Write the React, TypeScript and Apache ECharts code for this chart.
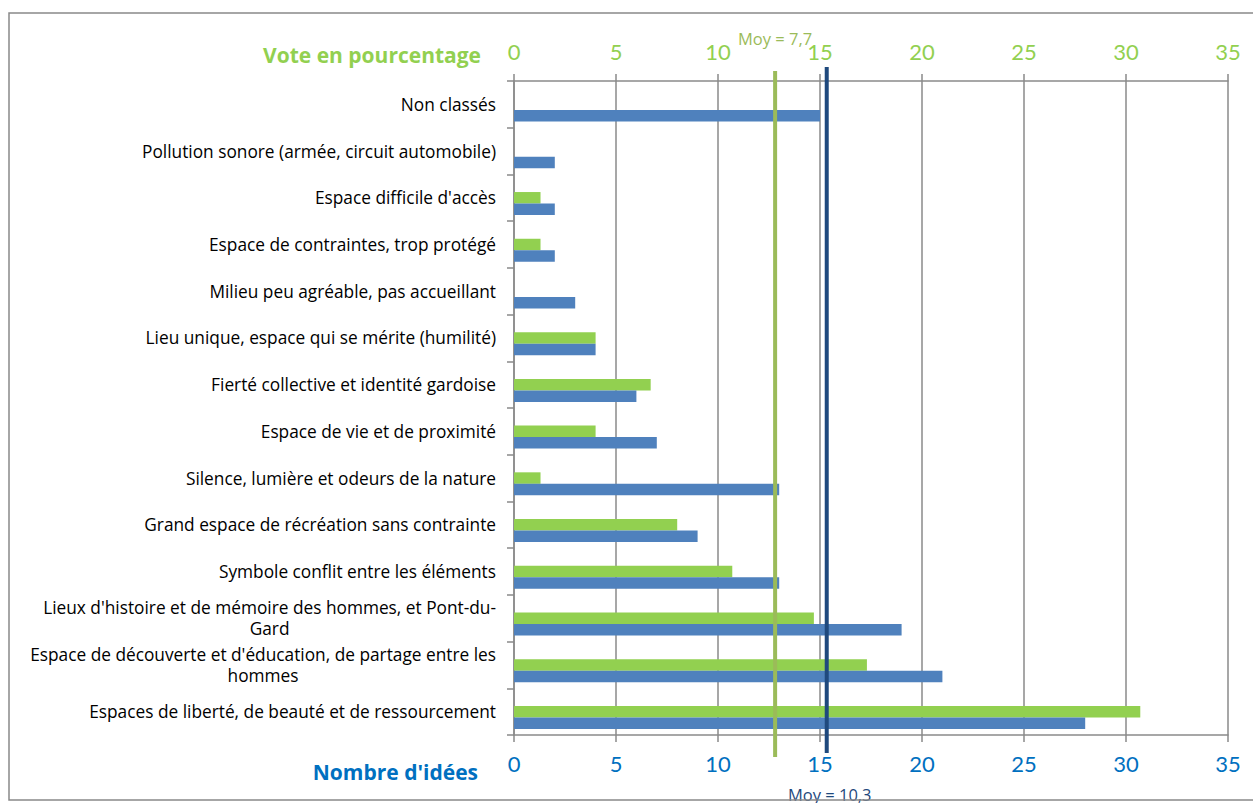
import React, { useEffect, useRef } from "react";
import * as echarts from "echarts";

const categories: string[] = [
  "Non classés",
  "Pollution sonore (armée, circuit automobile)",
  "Espace difficile d'accès",
  "Espace de contraintes, trop protégé",
  "Milieu peu agréable, pas accueillant",
  "Lieu unique, espace qui se mérite (humilité)",
  "Fierté collective et identité gardoise",
  "Espace de vie et de proximité",
  "Silence, lumière et odeurs de la nature",
  "Grand espace de récréation sans contrainte",
  "Symbole conflit entre les éléments",
  "Lieux d'histoire et de mémoire des hommes, et Pont-du-\nGard",
  "Espace de découverte et d'éducation, de partage entre les\nhommes",
  "Espaces de liberté, de beauté et de ressourcement",
];

// Top axis (green): vote in percent
const votePercent: number[] = [0, 0, 1.3, 1.3, 0, 4.0, 6.7, 4.0, 1.3, 8.0, 10.7, 14.7, 17.3, 30.7];
// Bottom axis (blue): number of ideas
const ideaCount: number[] = [15, 2, 2, 2, 3, 4, 6, 7, 13, 9, 13, 19, 21, 28];

const axisMin = 0;
const axisMax = 35;
const axisInterval = 5;

const voteAxisName = "Vote en pourcentage";
const ideaAxisName = "Nombre d'idées";

// Mean lines as drawn on the chart (position on their axis + label text)
const voteMeanPosition = 12.8;
const voteMeanLabel = "Moy = 7,7";
const ideaMeanPosition = 15.33;
const ideaMeanLabel = "Moy = 10,3";

const FONT = "'Open Sans', Lato, sans-serif";
const TICK_FONT = "Lato, 'Open Sans', sans-serif";
const GREEN = "#92D050";
const BLUE_BAR = "#4F81BD";
const BLUE_TEXT = "#0070C0";
const MEAN_GREEN = "#9BBB59";
const MEAN_BLUE = "#1F497D";
const GRID_GREY = "#8a8a8a";

export default function App() {
  const ref = useRef<HTMLDivElement>(null);

  useEffect(() => {
    if (!ref.current) return;
    const chart = echarts.init(ref.current, undefined, { renderer: "svg" });

    const valueAxisCommon = {
      type: "value" as const,
      min: axisMin,
      max: axisMax,
      interval: axisInterval,
      axisLine: { show: true, lineStyle: { color: GRID_GREY, width: 1.5 } },
      axisTick: { show: true, length: 7, lineStyle: { color: GRID_GREY, width: 1.5 } },
    };

    chart.setOption({
      animation: false,
      grid: { left: 514, right: 25, top: 81, bottom: 68, containLabel: false },
      xAxis: [
        {
          ...valueAxisCommon,
          position: "top",
          axisLabel: { color: GREEN, fontSize: 22, fontFamily: TICK_FONT, margin: 19 },
          splitLine: { show: true, lineStyle: { color: GRID_GREY, width: 1.5 } },
        },
        {
          ...valueAxisCommon,
          position: "bottom",
          axisLabel: { color: BLUE_TEXT, fontSize: 22, fontFamily: TICK_FONT, margin: 17 },
          splitLine: { show: false },
        },
      ],
      yAxis: {
        type: "category",
        inverse: true,
        data: categories,
        axisLine: { show: true, lineStyle: { color: GRID_GREY, width: 1.5 } },
        axisTick: { show: true, length: 7, lineStyle: { color: GRID_GREY, width: 1.5 } },
        axisLabel: {
          margin: 18,
          color: "#000",
          fontSize: 17.3,
          fontFamily: FONT,
          lineHeight: 21,
          formatter: (v: string) =>
            v
              .split("\n")
              .map((l) => `{c|${l}}`)
              .join("\n"),
          rich: {
            c: { align: "center", color: "#000", fontSize: 17.3, fontFamily: FONT, lineHeight: 21 },
          },
        },
      },
      series: [
        {
          name: "spacer",
          type: "bar",
          xAxisIndex: 0,
          data: [],
          barWidth: 11.5,
          barGap: "0%",
          silent: true,
          itemStyle: { color: "rgba(0,0,0,0)" },
        },
        {
          name: voteAxisName,
          type: "bar",
          xAxisIndex: 0,
          data: votePercent,
          barWidth: 11.5,
          barGap: "0%",
          itemStyle: { color: GREEN },
        },
        {
          name: ideaAxisName,
          type: "bar",
          xAxisIndex: 1,
          data: ideaCount,
          barWidth: 11.5,
          barGap: "0%",
          itemStyle: { color: BLUE_BAR },
        },
      ],
    });

    const gx = chart.convertToPixel({ xAxisIndex: 0 }, voteMeanPosition) as number;
    const bx = chart.convertToPixel({ xAxisIndex: 1 }, ideaMeanPosition) as number;

    chart.setOption({
      graphic: [
        {
          type: "text",
          z: 100,
          x: 481,
          y: 55,
          style: {
            text: voteAxisName,
            align: "right",
            verticalAlign: "middle",
            fill: GREEN,
            font: `bold 21px ${FONT}`,
          },
        },
        {
          type: "text",
          z: 100,
          x: 478,
          y: 772,
          style: {
            text: ideaAxisName,
            align: "right",
            verticalAlign: "middle",
            fill: BLUE_TEXT,
            font: `bold 21px ${FONT}`,
          },
        },
        {
          type: "line",
          z: 100,
          shape: { x1: gx, y1: 71, x2: gx, y2: 757 },
          style: { stroke: MEAN_GREEN, lineWidth: 4 },
        },
        {
          type: "line",
          z: 101,
          shape: { x1: bx, y1: 67, x2: bx, y2: 753 },
          style: { stroke: MEAN_BLUE, lineWidth: 4 },
        },
        {
          type: "text",
          z: 100,
          x: gx,
          y: 38,
          style: {
            text: voteMeanLabel,
            align: "center",
            verticalAlign: "middle",
            fill: MEAN_GREEN,
            font: `16.5px ${FONT}`,
          },
        },
        {
          type: "text",
          z: 100,
          x: bx + 3,
          y: 794,
          style: {
            text: ideaMeanLabel,
            align: "center",
            verticalAlign: "middle",
            fill: MEAN_BLUE,
            font: `16.5px ${FONT}`,
          },
        },
        {
          type: "rect",
          z: 110,
          shape: { x: 9, y: 13, width: 1250, height: 787 },
          style: { fill: "none", stroke: "#898989", lineWidth: 1.5 },
        },
      ],
    });

    return () => chart.dispose();
  }, []);

  return (
    <div
      ref={ref}
      style={{ position: "fixed", left: 0, top: 0, width: 1253, height: 803, background: "#fff" }}
    />
  );
}
